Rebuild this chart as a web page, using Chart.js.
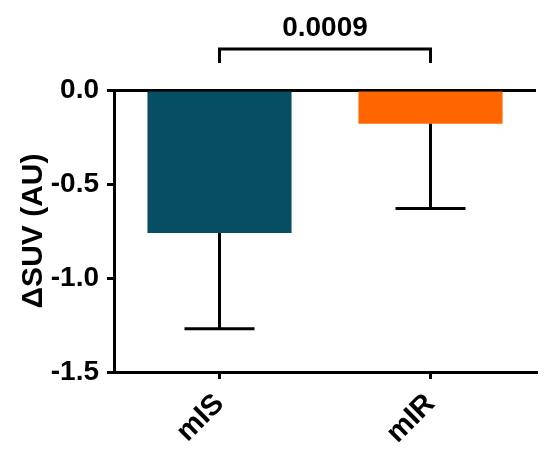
<!DOCTYPE html>
<html>
<head>
    <title>Delta SUV bar chart</title>
    <script src="https://cdn.jsdelivr.net/npm/chart.js"></script>
    <style>
        html, body { margin: 0; padding: 0; background: #fff; }
        #wrap { width: 550px; height: 454px; }
    </style>
</head>
<body>
    <div id="wrap"><canvas id="myChart" width="550" height="454"></canvas></div>

    <script>
        // data
        var groups = ['mIS', 'mIR'];
        var means = [-0.76, -0.18];
        var errLower = [-1.27, -0.63];
        var barColors = ['#064e62', '#ff6600'];
        var yTicks = [0.0, -0.5, -1.0, -1.5];
        var pValue = '0.0009';

        var fontFamily = '"Liberation Sans", Arial, sans-serif';

        // one-sided (downward) error bars
        var errorBars = {
            id: 'errorBars',
            afterDatasetsDraw: function (chart) {
                var ctx = chart.ctx;
                var y = chart.scales.y;
                var meta = chart.getDatasetMeta(0);
                ctx.save();
                ctx.strokeStyle = '#000';
                ctx.lineWidth = 3;
                meta.data.forEach(function (bar, i) {
                    var y0 = y.getPixelForValue(means[i]);
                    var y1 = y.getPixelForValue(errLower[i]);
                    ctx.beginPath();
                    ctx.moveTo(bar.x, y0);
                    ctx.lineTo(bar.x, y1);
                    ctx.moveTo(bar.x - 35, y1);
                    ctx.lineTo(bar.x + 35, y1);
                    ctx.stroke();
                });
                ctx.restore();
            }
        };

        // significance bracket above the bars
        var bracket = {
            id: 'bracket',
            afterDraw: function (chart) {
                var ctx = chart.ctx;
                var x = chart.scales.x;
                var top = chart.chartArea.top;
                var xa = x.getPixelForValue(0);
                var xb = x.getPixelForValue(1);
                var yLine = top - 41;
                ctx.save();
                ctx.strokeStyle = '#000';
                ctx.lineWidth = 3;
                ctx.beginPath();
                ctx.moveTo(xa, top - 27);
                ctx.lineTo(xa, yLine);
                ctx.lineTo(xb, yLine);
                ctx.lineTo(xb, top - 27);
                ctx.stroke();
                ctx.fillStyle = '#000';
                ctx.font = 'bold 28px ' + fontFamily;
                ctx.textAlign = 'center';
                ctx.textBaseline = 'alphabetic';
                ctx.fillText(pValue, (xa + xb) / 2, top - 54);
                ctx.restore();
            }
        };

        var ctx = document.getElementById('myChart').getContext('2d');
        var myChart = new Chart(ctx, {
            type: 'bar',
            data: {
                labels: groups,
                datasets: [{
                    data: means,
                    backgroundColor: barColors,
                    borderWidth: 0,
                    barPercentage: 0.683,
                    categoryPercentage: 1.0
                }]
            },
            options: {
                responsive: false,
                animation: false,
                layout: { padding: { top: 90, right: 14, left: 0, bottom: 0 } },
                plugins: {
                    legend: { display: false },
                    tooltip: { enabled: false }
                },
                scales: {
                    x: {
                        afterFit: function (scale) { scale.height = 82; },
                        border: { color: '#000', width: 3 },
                        grid: {
                            drawOnChartArea: false,
                            offset: false,
                            tickLength: 7,
                            tickColor: '#000',
                            lineWidth: 3
                        },
                        ticks: {
                            color: '#000',
                            minRotation: 45,
                            maxRotation: 45,
                            padding: 8,
                            font: { family: fontFamily, size: 29, weight: 'bold' }
                        }
                    },
                    y: {
                        min: -1.5,
                        max: 0,
                        afterFit: function (scale) { scale.width = 114; },
                        afterBuildTicks: function (scale) {
                            scale.ticks = yTicks.map(function (v) { return { value: v }; });
                        },
                        border: { color: '#000', width: 3 },
                        grid: {
                            color: function (c) { return c.tick && c.tick.value === 0 ? '#000' : 'rgba(0,0,0,0)'; },
                            tickColor: '#000',
                            tickLength: 7,
                            lineWidth: 3
                        },
                        ticks: {
                            color: '#000',
                            padding: 8,
                            font: { family: fontFamily, size: 28, weight: 'bold' },
                            callback: function (v) { return Number(v).toFixed(1); }
                        },
                        title: {
                            display: true,
                            text: '\u0394SUV (AU)',
                            color: '#000',
                            padding: { top: 16, bottom: 0 },
                            font: { family: fontFamily, size: 30, weight: 'bold' }
                        }
                    }
                }
            },
            plugins: [errorBars, bracket]
        });
    </script>
</body>
</html>
